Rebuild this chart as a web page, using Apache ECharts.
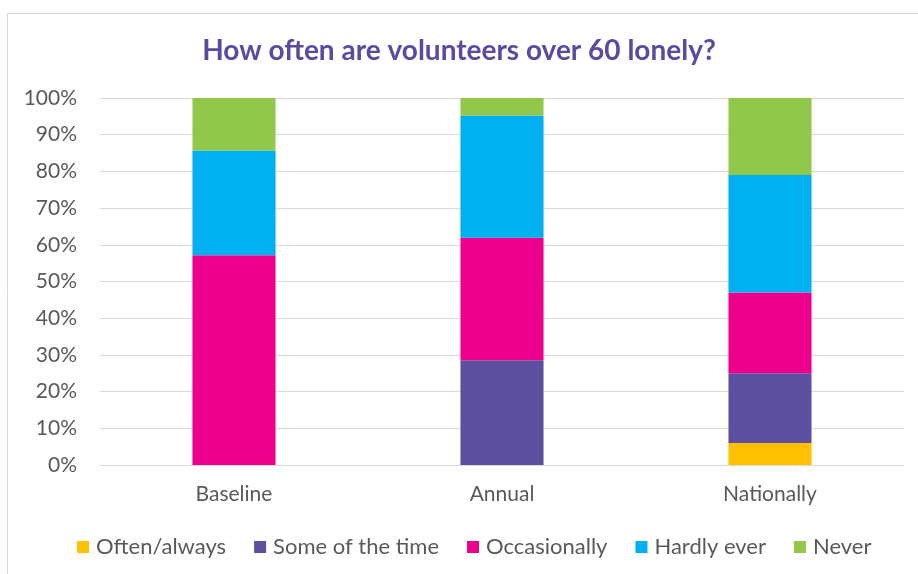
<!DOCTYPE html>
<html>
<head>
<meta charset="utf-8">
<script src="https://cdn.jsdelivr.net/npm/echarts@6/dist/echarts.min.js"></script>
<style>
  html, body { margin: 0; padding: 0; background: #fff; }
  #chart { width: 918px; height: 574px; }
</style>
</head>
<body>
<div id="chart"></div>
<script>
// Survey groups and the share (%) of respondents in each loneliness band
const categories = ['Baseline', 'Annual', 'Nationally'];
const oftenAlways = [0, 0, 6];
const someOfTheTime = [0, 28.57, 19];
const occasionally = [57.14, 33.33, 22];
const hardlyEver = [28.57, 33.33, 32];
const never = [14.29, 4.77, 21];

const seriesNames = ['Often/always', 'Some of the time', 'Occasionally', 'Hardly ever', 'Never'];
const seriesValues = [oftenAlways, someOfTheTime, occasionally, hardlyEver, never];
const seriesColors = ['#FFC000', '#5E50A1', '#EF008C', '#00B0F0', '#92C84A'];

const axisFont = 'Lato, "Open Sans", sans-serif';

const chart = echarts.init(document.getElementById('chart'));
chart.setOption({
  backgroundColor: '#ffffff',
  animation: false,
  title: {
    text: 'How often are volunteers over 60 lonely?',
    left: 'center',
    top: 32,
    textStyle: { color: '#5B4A9F', fontSize: 28, fontWeight: 'bold', fontFamily: axisFont }
  },
  graphic: [{
    type: 'rect',
    shape: { x: 7.5, y: 13.5, width: 930, height: 600 },
    style: { fill: 'none', stroke: '#d9d9d9', lineWidth: 1 },
    silent: true
  }],
  grid: { left: 100, right: 14, top: 98, bottom: 109, containLabel: false },
  legend: {
    data: seriesNames,
    top: 531,
    left: 72,
    icon: 'rect',
    itemWidth: 12,
    itemHeight: 12,
    itemGap: 28,
    textStyle: { color: '#595959', fontSize: 22, fontFamily: axisFont, padding: [0, 0, 0, 2] }
  },
  xAxis: {
    type: 'category',
    data: categories,
    axisLine: { show: true, lineStyle: { color: '#d9d9d9', width: 1 } },
    axisTick: { show: false },
    axisLabel: { color: '#595959', fontSize: 21, fontFamily: axisFont, margin: 19 }
  },
  yAxis: {
    type: 'value',
    min: 0,
    max: 100,
    interval: 10,
    axisLine: { show: false },
    axisTick: { show: false },
    splitLine: { lineStyle: { color: '#d9d9d9', width: 1 } },
    axisLabel: {
      color: '#595959', fontSize: 21, fontFamily: axisFont, margin: 23,
      formatter: v => v + '%'
    }
  },
  series: seriesNames.map((name, i) => ({
    name: name,
    type: 'bar',
    stack: 'total',
    barWidth: '31%',
    data: seriesValues[i],
    itemStyle: { color: seriesColors[i] }
  }))
});
</script>
</body>
</html>
